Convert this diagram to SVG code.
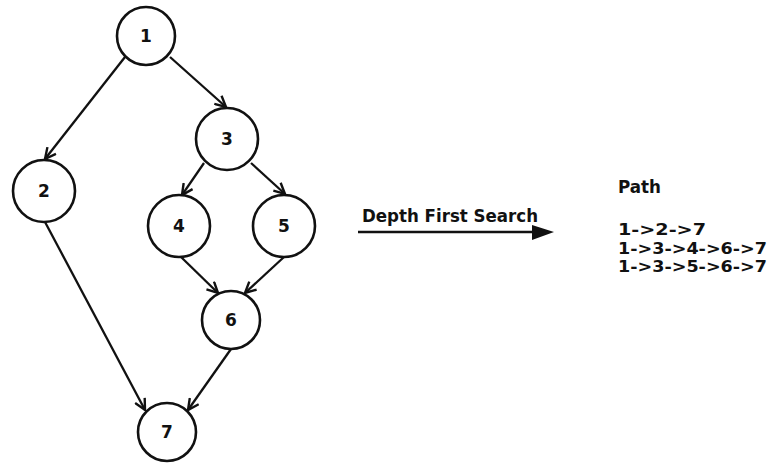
<svg xmlns="http://www.w3.org/2000/svg" width="773" height="463" viewBox="0 0 773 463">
<defs>
<style>
.node circle{fill:#fff;stroke:#111;stroke-width:2.6}
.node text,.lbl{font-family:"DejaVu Sans","Verdana",sans-serif;font-weight:bold;fill:#111}
.node text{font-size:17px;text-anchor:middle}
.edge{stroke:#111;stroke-width:2.3;fill:none;marker-end:url(#open)}
</style>
<marker id="open" viewBox="0 0 12 12" refX="11" refY="6" markerWidth="13" markerHeight="13" markerUnits="userSpaceOnUse" orient="auto">
<path d="M1,1 L11,6 L1,11" fill="none" stroke="#111" stroke-width="2.2"/>
</marker>
</defs>
<rect width="773" height="463" fill="#fff"/>
<g id="connectors">
<line class="edge" x1="125" y1="57" x2="45" y2="159"/>
<line class="edge" x1="170" y1="57" x2="226" y2="107"/>
<line class="edge" x1="204" y1="163" x2="182" y2="195"/>
<line class="edge" x1="251" y1="163" x2="285" y2="194"/>
<line class="edge" x1="181" y1="257" x2="218" y2="293"/>
<line class="edge" x1="284" y1="257" x2="245" y2="293"/>
<line class="edge" x1="45" y1="222" x2="145" y2="410"/>
<line class="edge" x1="231" y1="349" x2="188" y2="410"/>
<line x1="358" y1="232" x2="534" y2="232" stroke="#111" stroke-width="2.7"/>
<polygon points="532,225 554,232 532,240" fill="#111"/>
</g>
<g id="node1" class="node"><circle cx="146" cy="36" r="29"/><text x="146" y="42">1</text></g>
<g id="node2" class="node"><circle cx="44" cy="191" r="31"/><text x="44" y="197">2</text></g>
<g id="node3" class="node"><circle cx="227" cy="139" r="31"/><text x="227" y="145">3</text></g>
<g id="node4" class="node"><circle cx="179" cy="226" r="31"/><text x="179" y="232">4</text></g>
<g id="node5" class="node"><circle cx="284" cy="226" r="31"/><text x="284" y="232">5</text></g>
<g id="node6" class="node"><circle cx="231" cy="320" r="29"/><text x="231" y="326">6</text></g>
<g id="node7" class="node"><circle cx="167" cy="432" r="29"/><text x="167" y="438">7</text></g>
<text class="lbl" x="362" y="222" font-size="17" textLength="176" lengthAdjust="spacingAndGlyphs">Depth First Search</text>
<g id="paths" class="lbl" font-size="15.5">
<text x="618" y="193" font-size="17" textLength="43" lengthAdjust="spacingAndGlyphs">Path</text>
<text x="618" y="235" textLength="88" lengthAdjust="spacingAndGlyphs">1-&gt;2-&gt;7</text>
<text x="618" y="253.5" textLength="149" lengthAdjust="spacingAndGlyphs">1-&gt;3-&gt;4-&gt;6-&gt;7</text>
<text x="618" y="272" textLength="149" lengthAdjust="spacingAndGlyphs">1-&gt;3-&gt;5-&gt;6-&gt;7</text>
</g>
</svg>
